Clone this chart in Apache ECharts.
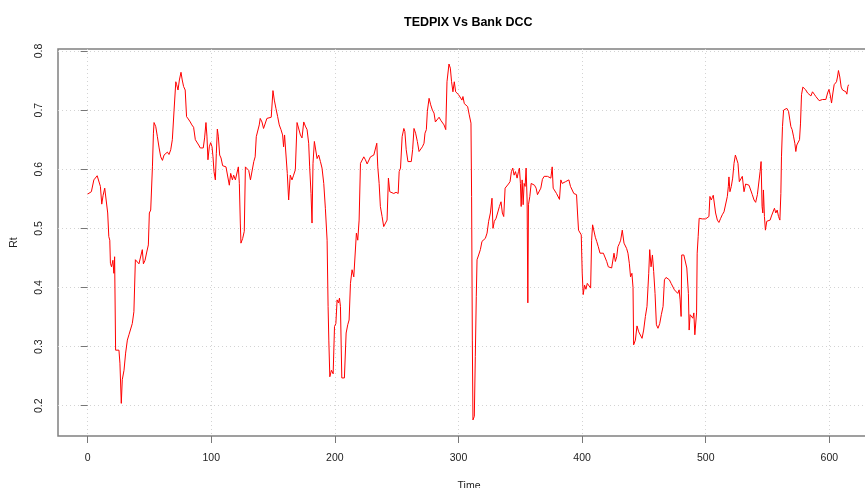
<!DOCTYPE html>
<html><head><meta charset="utf-8">
<script src="https://cdn.jsdelivr.net/npm/echarts@6/dist/echarts.min.js"></script>
<style>html,body{margin:0;padding:0;background:#fff}#c{width:865px;height:488px}</style>
</head><body><div id="c"></div>
<script>
const chartTitle = 'TEDPIX Vs Bank DCC';
const xName = 'Time';
const yName = 'Rt';
const xTicks = [0, 100, 200, 300, 400, 500, 600];
const yTicks = [0.2, 0.3, 0.4, 0.5, 0.6, 0.7, 0.8];

// [time, Rt]
const seg1 = [[0,0.558],[1.5,0.555],[3,0.562],[5,0.582],[6.3,0.583],[7.7,0.589],[9,0.589],[10.3,0.571],[11.4,0.541],[12.5,0.556],[13.8,0.568],[15.2,0.565],[16.2,0.526],[17.1,0.486],[17.9,0.48],[18.4,0.441],[19.3,0.435],[20.4,0.446],[21.2,0.424],[21.8,0.452],[22.6,0.294],[24,0.291],[25.3,0.294],[26.1,0.272],[27.2,0.204],[28,0.244],[29.4,0.26],[30.7,0.289],[32.1,0.311],[33.4,0.32],[34.7,0.32],[36.1,0.339],[37.4,0.359],[38.6,0.447],[40.2,0.449],[41.5,0.44],[42.9,0.44],[44.2,0.464],[45.1,0.44],[46.4,0.446],[47.8,0.46],[49.1,0.472],[49.9,0.526],[51,0.531],[52.4,0.604],[53.2,0.661],[53.7,0.679],[55.1,0.672],[56.4,0.655],[57.8,0.636],[59.1,0.621],[60.5,0.615],[61.8,0.624],[63.2,0.627],[64.5,0.629],[65.8,0.625],[67.2,0.633],[68.5,0.65],[69.9,0.70],[71.3,0.748],[72,0.743],[73.1,0.734],[74.2,0.751],[75.5,0.764],[76.5,0.751],[77.6,0.74],[78.9,0.734],[80,0.689],[81.4,0.685],[83,0.68],[84.3,0.675],[85.7,0.671],[87.1,0.65],[88.4,0.647],[89.8,0.641],[91.1,0.636],[92.2,0.638],[93.5,0.636],[94.6,0.653],[95.7,0.679],[96.5,0.656],[97.3,0.616],[98.4,0.638],[99.5,0.645],[100.6,0.638],[101.4,0.621],[102.2,0.596],[103.3,0.582],[104.1,0.627],[104.9,0.668],[105.7,0.656],[106.8,0.624],[107.9,0.619],[109.2,0.606],[110.6,0.605],[111.9,0.604],[113.3,0.602],[114.6,0.573],[115.7,0.593],[117.1,0.582],[118.1,0.59],[119.5,0.582],[120.8,0.579],[121.9,0.604],[122.7,0.576],[123.5,0.509],[124,0.475],[125.4,0.483],[126.7,0.495],[127.6,0.604],[128.9,0.606],[130.3,0.598],[131.7,0.582],[133,0.582],[134.4,0.613],[135.5,0.621]];
const seg2 = [[136.4,0.655],[137.5,0.653],[138.8,0.675],[139.6,0.686],[141,0.68],[142.3,0.669],[143.7,0.672],[145,0.686],[146.4,0.685],[148.5,0.688],[149.9,0.733],[151,0.717],[152.3,0.703],[153.7,0.689],[155,0.675],[156.4,0.667],[157.7,0.658],[158.5,0.638],[159.3,0.658],[160.7,0.655],[161.5,0.593],[162.6,0.548],[163.9,0.59],[165.3,0.582],[166.6,0.59],[168,0.599],[169.4,0.679],[170.7,0.678],[172.1,0.658],[173.4,0.653],[174.8,0.68],[176.1,0.673],[177.5,0.667],[178.8,0.644],[179.6,0.604],[180.7,0.559],[181.5,0.509],[182.3,0.61],[183.4,0.647],[184.5,0.644],[185.6,0.618],[186.9,0.624],[188.3,0.613],[189.6,0.602],[191,0.576],[192.3,0.534],[193.7,0.48],[194.5,0.368],[195.1,0.311],[195.9,0.249],[197.2,0.26],[198.6,0.254],[199.7,0.334],[200.8,0.339],[201.8,0.379],[202.9,0.374],[203.7,0.382],[204.5,0.368],[205.6,0.247],[206.7,0.249],[207.7,0.247],[209.1,0.323],[210.4,0.337],[211.5,0.345],[212.6,0.407],[213.9,0.43],[215.3,0.418],[216.6,0.418],[217.4,0.492],[218.5,0.48],[219.6,0.514],[220.7,0.61],[222,0.613],[223.4,0.621],[224.7,0.616],[226.1,0.609],[227.4,0.61],[228.8,0.621],[230.1,0.622],[231.5,0.624],[232.8,0.627],[233.9,0.644],[234.7,0.604],[235.8,0.576],[236.8,0.537],[238.2,0.52],[239.5,0.503],[240.9,0.5],[242.2,0.514],[243.3,0.585],[244.4,0.562],[245.7,0.562],[247.6,0.559],[249.5,0.561],[251.2,0.559],[252,0.596],[253.1,0.602],[254.4,0.655],[255.8,0.669],[256.6,0.664],[257.7,0.633],[259.1,0.613],[260.4,0.616],[261.8,0.613],[262.9,0.633],[264,0.669],[265.3,0.661],[266.7,0.647],[268.1,0.63],[269.4,0.627],[270.8,0.638],[272.1,0.644],[272.9,0.661],[274,0.667],[274.8,0.698],[276.2,0.72],[277.5,0.709],[278.9,0.70],[280.2,0.695],[281.3,0.68],[282.9,0.683],[284.3,0.688],[285.6,0.683],[287,0.68],[288.3,0.675],[289.7,0.667]];
const seg3 = [[290.7,0.748],[291.5,0.745],[292.3,0.778],[293.4,0.771],[294.4,0.748],[295.5,0.731],[296.6,0.748],[297.7,0.731],[298.7,0.734],[300.1,0.726],[301.4,0.723],[302.8,0.717],[303.6,0.723],[304.7,0.711],[306,0.709],[307.4,0.706],[308.7,0.692],[310.1,0.678],[310.6,0.554],[311.2,0.311],[311.7,0.176],[312.8,0.182],[313.6,0.283],[314.4,0.385],[315,0.447],[316.3,0.455],[317.7,0.464],[319,0.478],[320.4,0.48],[321.7,0.483],[323.1,0.492],[324.4,0.512],[325.8,0.526],[327.1,0.551],[327.9,0.5],[329,0.512],[330.4,0.517],[331.7,0.52],[333.1,0.537],[334.4,0.545],[335.5,0.526],[336.6,0.52],[337.7,0.568],[339,0.571],[340.4,0.575],[341.7,0.579],[342.8,0.596],[343.9,0.602],[345,0.59],[346.1,0.596],[347.4,0.585],[348.5,0.596],[349.3,0.602],[350.1,0.576],[350.7,0.537],[351.5,0.582],[352.3,0.54],[353.1,0.576],[353.9,0.571],[354.7,0.602],[355.5,0.548],[356.1,0.374],[356.6,0.54],[357.7,0.554],[358.8,0.576],[360.1,0.576],[361.5,0.573],[362.8,0.568],[363.9,0.557],[365.2,0.559],[366.6,0.568],[367.9,0.583],[369.3,0.588],[370.6,0.589],[372,0.588],[373.3,0.588],[374.7,0.585],[375.8,0.604],[376.6,0.568],[377.9,0.565],[379.3,0.559],[380.6,0.557],[381.7,0.549],[382.8,0.582],[383.9,0.576],[385.2,0.573],[386.6,0.579],[387.9,0.582],[389.3,0.582],[390.6,0.571],[392,0.568],[393.3,0.559],[394.4,0.562],[395.5,0.557],[396.3,0.526],[397.1,0.497],[398.2,0.495],[399.3,0.489],[400.1,0.424],[400.9,0.388],[402,0.404],[403.1,0.397],[404.2,0.407],[405.5,0.41],[406.9,0.399],[407.7,0.48],[408.5,0.506],[409.6,0.508],[410.7,0.485],[411.8,0.478],[413.1,0.469],[414.5,0.458],[415.8,0.458],[417.2,0.458],[418.5,0.455],[419.9,0.444],[421.2,0.435],[422.6,0.433],[423.9,0.433],[425,0.435],[425.8,0.458],[426.9,0.444],[428,0.452],[429,0.469],[430.1,0.474],[431.2,0.48],[432.5,0.497],[433.9,0.475],[435.2,0.475],[436,0.466],[437.1,0.458],[438.2,0.441],[439.2,0.418],[440.3,0.424],[441.2,0.40]];
const seg4 = [[441.7,0.303],[443.1,0.311],[444.4,0.335],[445.8,0.325],[447.1,0.322],[448.5,0.314],[449.8,0.328],[451.2,0.351],[452.5,0.368],[453.9,0.424],[454.7,0.464],[455.8,0.435],[456.9,0.455],[457.9,0.427],[459,0.39],[460.1,0.337],[461.4,0.331],[462.8,0.339],[464.1,0.354],[465.5,0.368],[466.6,0.413],[467.9,0.417],[469.3,0.415],[470.6,0.413],[472,0.407],[473.3,0.404],[474.7,0.396],[476,0.393],[477.4,0.39],[478.5,0.396],[479.3,0.379],[480.1,0.351],[480.6,0.455],[482.3,0.455],[483.6,0.453],[484.7,0.433],[485.5,0.43],[486,0.39],[486.6,0.328],[487.4,0.354],[488.5,0.357],[489.6,0.348],[490.4,0.357],[491.2,0.32],[492,0.317],[492.6,0.357],[493.1,0.458],[493.9,0.486],[494.7,0.517],[495.8,0.516],[497.2,0.516],[498.5,0.516],[499.9,0.516],[501.2,0.517],[502.6,0.52],[503.4,0.554],[504.5,0.548],[505.3,0.552],[506.1,0.556],[506.9,0.554],[508,0.526],[509.4,0.514],[510.7,0.51],[512.1,0.517],[513.4,0.523],[514.8,0.528],[516.1,0.531],[517.5,0.554],[518.3,0.571],[518.8,0.587],[519.6,0.562],[520.7,0.571],[521.8,0.585],[522.9,0.61],[524,0.624],[525,0.624],[526.1,0.61],[527.2,0.579],[528.3,0.582],[529.6,0.588],[531,0.562],[532.3,0.575],[533.7,0.573],[535,0.573],[536.4,0.571],[537.7,0.557],[539.1,0.548],[540.4,0.544],[541.8,0.557],[543.1,0.559],[544,0.596],[544.8,0.613],[545.6,0.537],[546.2,0.526],[546.7,0.565],[547.5,0.52],[548.3,0.497],[549.4,0.512],[550.7,0.514],[552.1,0.514],[553.2,0.521],[554.5,0.522],[555.6,0.534],[556.7,0.526],[557.8,0.531],[558.9,0.52],[560,0.514],[560.8,0.559],[561.3,0.621],[562.1,0.672],[563,0.70],[564.3,0.701],[565.6,0.703],[567,0.698],[568.1,0.683],[568.9,0.672],[569.9,0.667],[571,0.656],[572.1,0.644],[572.9,0.63],[573.7,0.641],[574.8,0.643],[575.9,0.65],[576.7,0.678],[577.5,0.726],[578.6,0.739],[579.7,0.74],[581,0.734],[582.4,0.729],[583.7,0.726],[585.1,0.724],[586.4,0.731],[587.8,0.727],[589.1,0.723],[590.5,0.72],[591.8,0.716],[593.2,0.715],[594.5,0.718],[595.9,0.716],[597.2,0.718],[598.6,0.729],[599.7,0.735],[600.7,0.726],[601.8,0.712],[602.9,0.729],[603.9,0.743],[604.7,0.74],[605.8,0.748],[606.6,0.756],[607.4,0.767],[608.5,0.756],[609.6,0.739],[610.7,0.734],[612,0.732],[613.4,0.731],[614.2,0.727],[615,0.74],[615.6,0.743]];

const rtSeries = seg1.concat(seg2, seg3, seg4);

const chart = echarts.init(document.getElementById('c'), null, {renderer: 'canvas'});
const font = 'Liberation Sans, Arial, sans-serif';
chart.setOption({
  animation: false,
  backgroundColor: '#ffffff',
  title: {
    text: chartTitle, left: 399, top: 11,
    textStyle: {fontFamily: font, fontSize: 12.5, fontWeight: 'bold', color: '#000'}
  },
  grid: {left: 58, top: 49, width: 822, height: 387, show: true, borderColor: '#808080', borderWidth: 1.5, backgroundColor: 'transparent', containLabel: false, outerBoundsMode: 'none'},
  xAxis: {
    type: 'value', min: -24, max: 641,
    name: xName, nameLocation: 'middle', nameGap: 45,
    nameTextStyle: {fontFamily: font, fontSize: 10.5, color: '#222'},
    axisLine: {show: false},
    axisTick: {show: true, customValues: xTicks, length: 7, lineStyle: {color: '#777', width: 1}},
    axisLabel: {customValues: xTicks, margin: 17, fontFamily: font, fontSize: 10.5, color: '#222', formatter: v => String(v)},
    splitLine: {show: true, lineStyle: {color: '#d3d3d3', type: [1, 3], width: 1}}
  },
  yAxis: {
    type: 'value', min: 0.1488, max: 0.8034,
    name: yName, nameLocation: 'middle', nameGap: 38,
    nameTextStyle: {fontFamily: font, fontSize: 10.5, color: '#222'},
    axisLine: {show: false},
    axisTick: {show: true, customValues: yTicks, length: 7, lineStyle: {color: '#777', width: 1}},
    axisLabel: {customValues: yTicks, rotate: 90, margin: 13, fontFamily: font, fontSize: 10.5, color: '#222', formatter: v => v.toFixed(1)},
    splitLine: {show: true, lineStyle: {color: '#d3d3d3', type: [1, 3], width: 1}}
  },
  series: [{
    type: 'line', data: rtSeries, showSymbol: false, symbol: 'none',
    lineStyle: {color: '#ff0000', width: 1}, clip: true
  }]
});
</script></body></html>
